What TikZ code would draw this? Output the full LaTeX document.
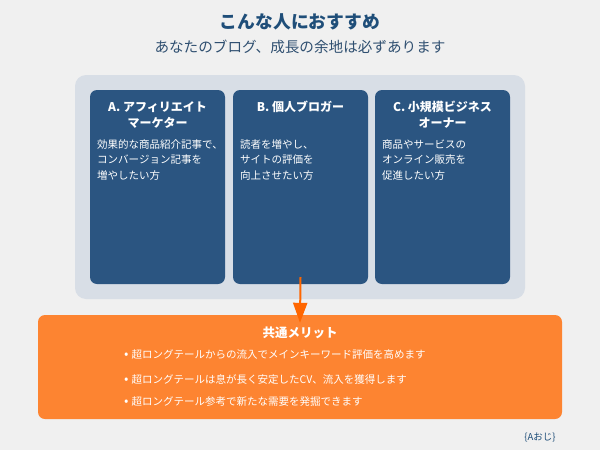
\documentclass[tikz,border=0pt]{standalone}
\usepackage{fontspec}
\setmainfont{Noto Sans CJK JP}
\usetikzlibrary{arrows.meta}
\definecolor{bgc}{HTML}{F0F0F0}
\definecolor{panelc}{HTML}{D8DEE6}
\definecolor{cardc}{HTML}{2B5581}
\definecolor{titlec}{HTML}{1F4E79}
\definecolor{subc}{HTML}{2F4F70}
\definecolor{meritc}{HTML}{FD8431}
\definecolor{arrowc}{HTML}{FF6600}
\tikzset{
  card/.style={fill=cardc, rounded corners=7pt, draw=none, minimum width=135pt, minimum height=194pt, inner sep=0pt},
  cardtitle/.style={text=white, font=\fontsize{12}{16}\selectfont\bfseries, align=center, inner sep=0pt},
  cardbody/.style={text=white, font=\fontsize{10.5}{15.5}\selectfont, align=left, inner sep=0pt, anchor=north west},
  bullet/.style={text=white, font=\fontsize{10.5}{13}\selectfont, inner sep=0pt, anchor=west},
}
\newcommand{\bdot}{{\fontsize{13}{13}\selectfont •}\hspace{3pt}}
\begin{document}
\begin{tikzpicture}[x=1pt,y=1pt]
\useasboundingbox (0,0) rectangle (600,-450);
\fill[bgc] (0,0) rectangle (600,-450);
\node[text=titlec, font=\fontsize{17.8}{20}\selectfont\bfseries, inner sep=0pt] (title) at (300,-22) {こんな人におすすめ};
\node[text=subc, font=\fontsize{14.6}{17}\selectfont, inner sep=0pt] (sub) at (300,-47) {あなたのブログ、成長の余地は必ずあります};
\node[fill=panelc, rounded corners=11pt, minimum width=450pt, minimum height=224pt, inner sep=0pt] (panel) at (300,-187) {};
\node[card] (A) at (157.5,-187) {};
\node[card] (B) at (300.5,-187) {};
\node[card] (C) at (442.5,-187) {};
\node[cardtitle] (At) at (157.5,-115) {A. アフィリエイト\\マーケター};
\node[cardtitle] (Bt) at (300.5,-107) {B. 個人ブロガー};
\node[cardtitle] (Ct) at (442.5,-115) {C. 小規模ビジネス\\オーナー};
\node[cardbody] (Ab) at (97,-139) {効果的な商品紹介記事で、\\コンバージョン記事を\\増やしたい方};
\node[cardbody] (Bb) at (240,-139) {読者を増やし、\\サイトの評価を\\向上させたい方};
\node[cardbody] (Cb) at (382,-139) {商品やサービスの\\オンライン販売を\\促進したい方};
\node[fill=meritc, rounded corners=7pt, minimum width=524pt, minimum height=104pt, inner sep=0pt] (merit) at (300,-367) {};
\node[text=white, font=\fontsize{12.5}{15}\selectfont\bfseries, inner sep=0pt] (mt) at (300,-333) {共通メリット};
\node[bullet] (m1) at (124,-355) {\bdot 超ロングテールからの流入でメインキーワード評価を高めます};
\node[bullet] (m2) at (124,-379) {\bdot 超ロングテールは息が長く安定したCV、流入を獲得します};
\node[bullet] (m3) at (124,-402) {\bdot 超ロングテール参考で新たな需要を発掘できます};
\draw[arrowc, line width=2pt, -{Triangle[length=20pt,width=14pt]}] ([yshift=7pt]B.south) -- ([yshift=-8pt]merit.north);
\node[text=titlec, font=\fontsize{9.5}{11}\selectfont, inner sep=0pt] (credit) at (540,-438) {\{Aおじ\}};
\end{tikzpicture}
\end{document}
